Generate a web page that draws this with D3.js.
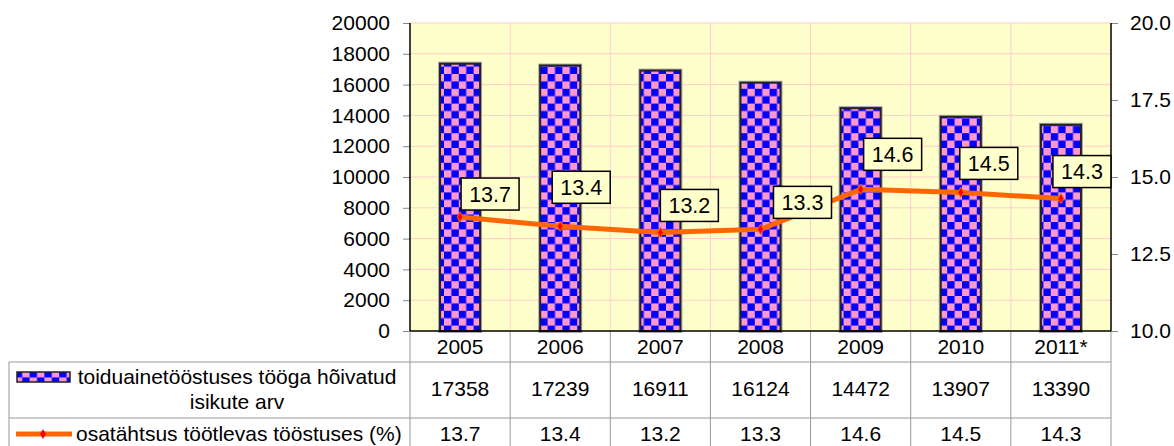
<!DOCTYPE html>
<html>
<head>
<meta charset="utf-8">
<script src="https://cdn.jsdelivr.net/npm/d3@7"></script>
<style>
  body { margin: 0; background: #fff; }
  text { font-family: "Liberation Sans", Arial, sans-serif; }
</style>
</head>
<body>
<svg id="chart" width="1174" height="446"></svg>
<script>
var years = ["2005", "2006", "2007", "2008", "2009", "2010", "2011*"];
var employed = [17358, 17239, 16911, 16124, 14472, 13907, 13390];
var share = [13.7, 13.4, 13.2, 13.3, 14.6, 14.5, 14.3];
var leftTicks = [0, 2000, 4000, 6000, 8000, 10000, 12000, 14000, 16000, 18000, 20000];
var rightTicks = [10.0, 12.5, 15.0, 17.5, 20.0];
var barName = ["toiduainetööstuses tööga hõivatud", "isikute arv"];
var lineName = "osatähtsus töötlevas tööstuses (%)";

// where Excel left the data labels, relative to the point (box left/top)
var labelOffsets = [[1, -39], [-8, -55], [0, -43], [13, -43], [3, -51], [-1, -45], [-8, -43]];

var plotLeft = 410, plotRight = 1111, plotTop = 23, plotBottom = 331;
var fontSize = 21;
var sq = 7.4; // checker square

var svg = d3.select('#chart');

// checker pattern for bars
var defs = svg.append("defs");
var pat = defs.append("pattern")
    .attr("id", "checker")
    .attr("patternUnits", "userSpaceOnUse")
    .attr("width", sq * 2)
    .attr("height", sq * 2);
pat.append("rect").attr("width", sq * 2).attr("height", sq * 2).attr("fill", "#ff99cc");
pat.append("rect").attr("width", sq).attr("height", sq).attr("fill", "#0000ff");
pat.append("rect").attr("x", sq).attr("y", sq).attr("width", sq).attr("height", sq).attr("fill", "#0000ff");

var x = d3.scaleBand()
    .domain(years)
    .range([plotLeft, plotRight])
    .paddingInner(0.6)
    .paddingOuter(0.3);
var y = d3.scaleLinear().domain([0, 20000]).range([plotBottom, plotTop]);
var yR = d3.scaleLinear().domain([10, 20]).range([plotBottom, plotTop]);
var step = x.step();

// plot background
svg.append("rect")
    .attr("x", plotLeft).attr("y", plotTop)
    .attr("width", plotRight - plotLeft).attr("height", plotBottom - plotTop)
    .attr("fill", "#ffffcc");

// grid
svg.append("g").selectAll("line")
    .data(leftTicks.slice(1))
    .enter().append("line")
        .attr("x1", plotLeft).attr("x2", plotRight)
        .attr("y1", function(d) { return y(d); })
        .attr("y2", function(d) { return y(d); })
        .attr("stroke", "#ffcccc")
        .attr("stroke-width", 1);
svg.append("g").selectAll("line")
    .data(years.slice(1))
    .enter().append("line")
        .attr("x1", function(d) { return x(d) - step * 0.3; })
        .attr("x2", function(d) { return x(d) - step * 0.3; })
        .attr("y1", plotTop).attr("y2", plotBottom)
        .attr("stroke", "#ffcccc")
        .attr("stroke-width", 1);

// bars (with a faint grey halo like the original)
svg.append("g").selectAll("rect")
    .data(employed)
    .enter().append("rect")
        .attr("x", function(d, i) { return x(years[i]); })
        .attr("y", function(d) { return y(d); })
        .attr("width", x.bandwidth())
        .attr("height", function(d) { return y(0) - y(d); })
        .attr("fill", "none")
        .attr("stroke", "#aaa")
        .attr("stroke-width", 4);
svg.append("g").selectAll("rect")
    .data(employed)
    .enter().append("rect")
        .attr("x", function(d, i) { return x(years[i]); })
        .attr("y", function(d) { return y(d); })
        .attr("width", x.bandwidth())
        .attr("height", function(d) { return y(0) - y(d); })
        .attr("fill", "url(#checker)")
        .attr("stroke", "#222")
        .attr("stroke-width", 2);

// left axis
var axL = svg.append("g")
    .attr("transform", "translate(" + plotLeft + ",0)")
    .call(d3.axisLeft(y).tickValues(leftTicks).tickSize(7).tickPadding(13).tickFormat(d3.format("d")));
axL.select(".domain").remove();
axL.selectAll(".tick line").attr("stroke", "#888");
axL.selectAll("text").attr("font-size", fontSize).attr("fill", "#000")
    .style("font-family", '"Liberation Sans", Arial, sans-serif');

// right axis
var axR = svg.append("g")
    .attr("transform", "translate(" + plotRight + ",0)")
    .call(d3.axisRight(yR).tickValues(rightTicks).tickSize(7).tickPadding(12).tickFormat(d3.format(".1f")));
axR.select(".domain").remove();
axR.selectAll(".tick line").attr("stroke", "#888");
axR.selectAll("text").attr("font-size", fontSize).attr("fill", "#000")
    .style("font-family", '"Liberation Sans", Arial, sans-serif');

// axis lines
svg.append("line").attr("x1", plotLeft).attr("x2", plotLeft).attr("y1", plotTop).attr("y2", plotBottom)
    .attr("stroke", "#000").attr("stroke-width", 1.5);
svg.append("line").attr("x1", plotRight).attr("x2", plotRight).attr("y1", plotTop).attr("y2", plotBottom)
    .attr("stroke", "#000").attr("stroke-width", 1.5);
svg.append("line").attr("x1", plotLeft).attr("x2", plotRight).attr("y1", plotBottom).attr("y2", plotBottom)
    .attr("stroke", "#000").attr("stroke-width", 1.5);

// line series
var cx = function(i) { return x(years[i]) + x.bandwidth() / 2; };
var line = d3.line()
    .x(function(d, i) { return cx(i); })
    .y(function(d) { return yR(d); });
svg.append("path")
    .datum(share)
    .attr("fill", "none")
    .attr("stroke", "#ff6600")
    .attr("stroke-width", 5)
    .attr("stroke-linejoin", "round")
    .attr("d", line);

var diamond = d3.symbol().type(d3.symbolDiamond).size(30);
svg.append("g").selectAll("path")
    .data(share)
    .enter().append("path")
        .attr("transform", function(d, i) { return "translate(" + cx(i) + "," + yR(d) + ")"; })
        .attr("d", diamond)
        .attr("fill", "#ff0000")
        .attr("stroke", "#ff6600")
        .attr("stroke-width", 1);

// data labels
var lbl = svg.append("g").selectAll("g")
    .data(share)
    .enter().append("g")
        .attr("transform", function(d, i) {
            return "translate(" + (cx(i) + labelOffsets[i][0]) + "," + (yR(d) + labelOffsets[i][1]) + ")";
        });
lbl.append("rect")
    .attr("width", 58).attr("height", 32)
    .attr("fill", "#ffffcc")
    .attr("stroke", "#000")
    .attr("stroke-width", 1.5);
lbl.append("text")
    .attr("x", 29).attr("y", 23.5)
    .attr("text-anchor", "middle")
    .attr("font-size", 21.5)
    .text(function(d) { return d3.format(".1f")(d); });

// data table
var tableColor = "#999";
var row1 = 362, row2 = 418, tableBottom = 446, tableLeft = 9;
svg.append("g").selectAll("line")
    .data(d3.range(years.length + 1))
    .enter().append("line")
        .attr("x1", function(i) { return plotLeft + i * step; })
        .attr("x2", function(i) { return plotLeft + i * step; })
        .attr("y1", plotBottom + 1).attr("y2", tableBottom)
        .attr("stroke", tableColor);
svg.append("line").attr("x1", tableLeft).attr("x2", plotRight).attr("y1", row1).attr("y2", row1).attr("stroke", tableColor);
svg.append("line").attr("x1", tableLeft).attr("x2", plotRight).attr("y1", row2).attr("y2", row2).attr("stroke", tableColor);
svg.append("line").attr("x1", tableLeft).attr("x2", tableLeft).attr("y1", row1).attr("y2", tableBottom).attr("stroke", tableColor);

// category labels
svg.append("g").selectAll("text")
    .data(years)
    .enter().append("text")
        .attr("x", function(d, i) { return cx(i); })
        .attr("y", 354)
        .attr("text-anchor", "middle")
        .attr("font-size", fontSize)
        .text(function(d) { return d; });

svg.append("g").selectAll("text")
    .data(employed)
    .enter().append("text")
        .attr("x", function(d, i) { return cx(i); })
        .attr("y", 396)
        .attr("text-anchor", "middle")
        .attr("font-size", fontSize)
        .text(function(d) { return d; });

svg.append("g").selectAll("text")
    .data(share)
    .enter().append("text")
        .attr("x", function(d, i) { return cx(i); })
        .attr("y", 441)
        .attr("text-anchor", "middle")
        .attr("font-size", fontSize)
        .text(function(d) { return d3.format(".1f")(d); });

// legend keys in table
svg.append("rect")
    .attr("x", 17).attr("y", 372).attr("width", 53).attr("height", 10)
    .attr("fill", "url(#checker)")
    .attr("stroke", "#222").attr("stroke-width", 1.5);
svg.append("text")
    .attr("x", 237).attr("y", 384)
    .attr("text-anchor", "middle")
    .attr("font-size", fontSize)
    .text(barName[0]);
svg.append("text")
    .attr("x", 237).attr("y", 409)
    .attr("text-anchor", "middle")
    .attr("font-size", fontSize)
    .text(barName[1]);

svg.append("line")
    .attr("x1", 16).attr("x2", 72).attr("y1", 434).attr("y2", 434)
    .attr("stroke", "#ff6600").attr("stroke-width", 5);
svg.append("path")
    .attr("transform", "translate(43,434)")
    .attr("d", diamond)
    .attr("fill", "#ff0000");
svg.append("text")
    .attr("x", 76).attr("y", 441)
    .attr("font-size", fontSize)
    .text(lineName);
</script>
</body>
</html>
